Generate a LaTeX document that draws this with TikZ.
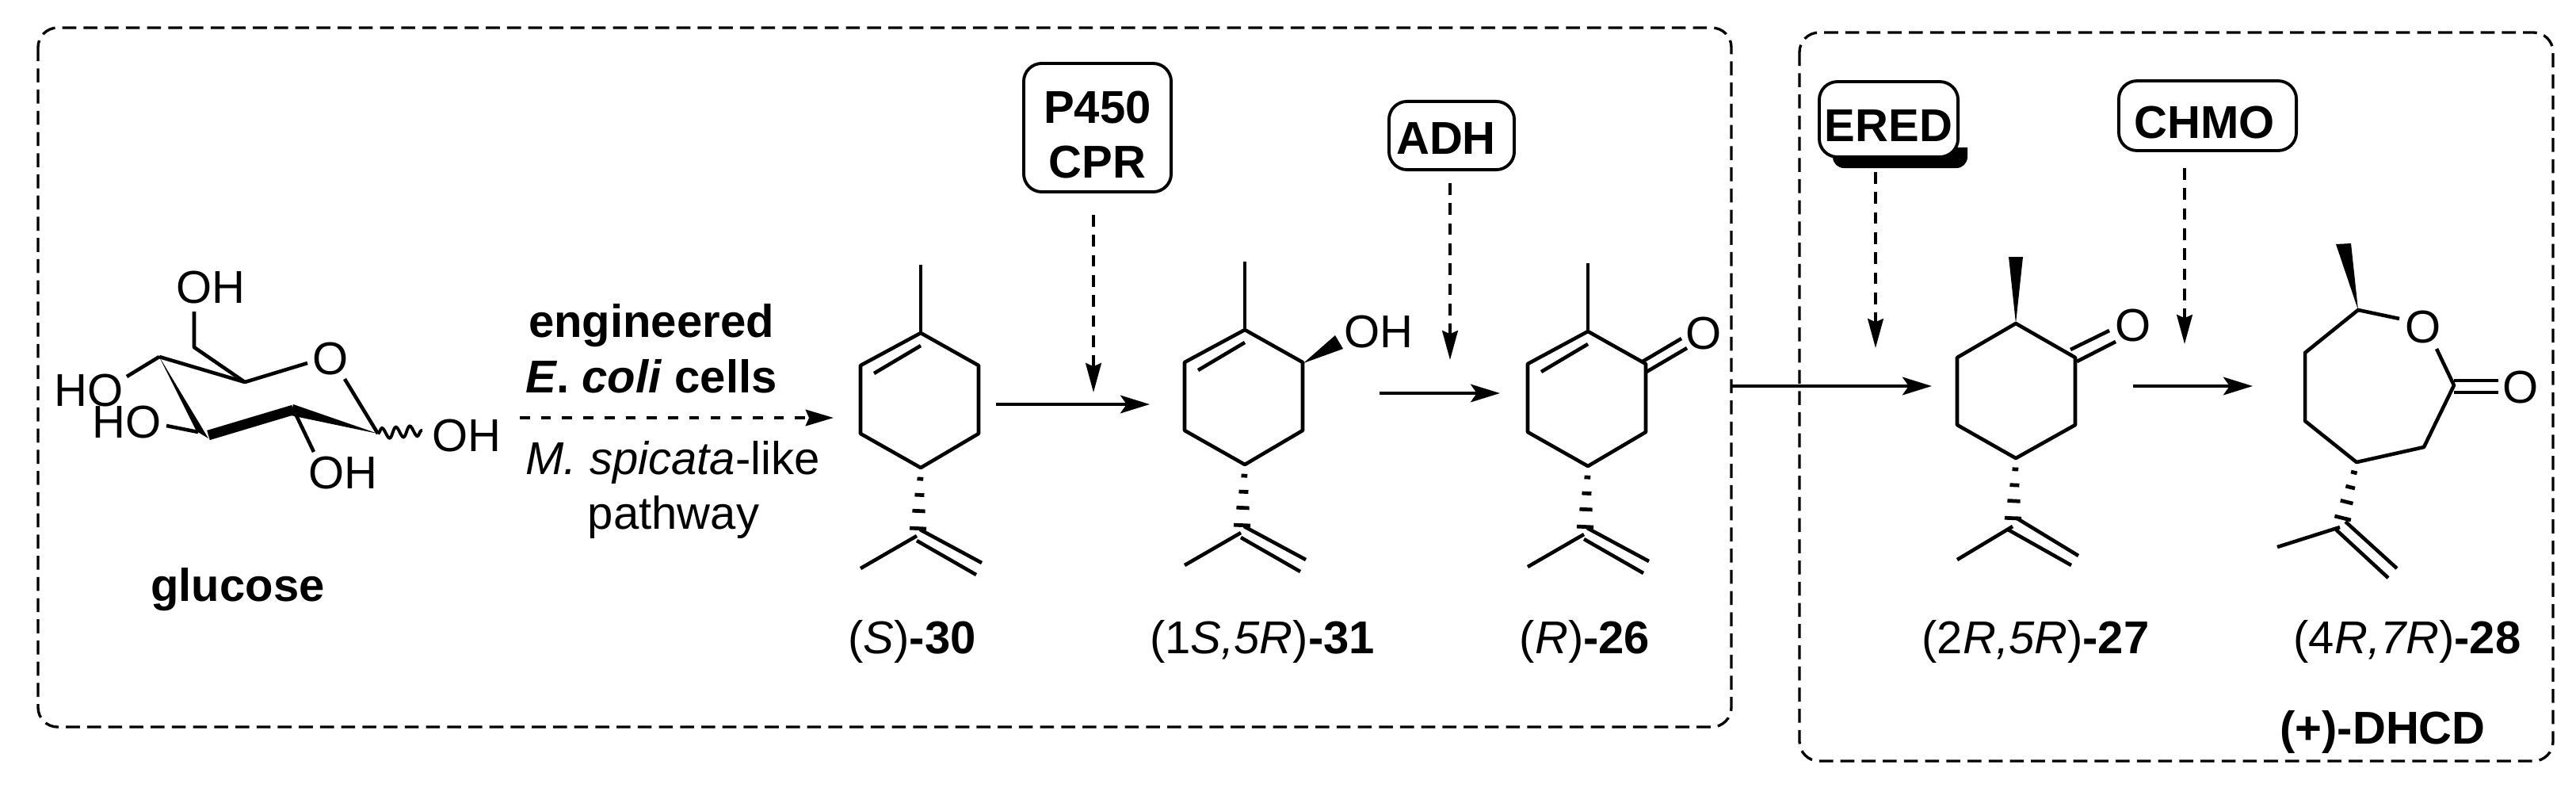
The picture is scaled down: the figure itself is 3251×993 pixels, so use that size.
\documentclass[tikz,border=0pt]{standalone}
\usepackage{fontspec}
\setmainfont{Liberation Sans}
\usetikzlibrary{arrows.meta,calc,decorations.pathmorphing}
\newcommand{\chemfont}{\fontsize{16.5pt}{19.6pt}\selectfont}
\tikzset{
  x=0.01cm,y=-0.01cm,
  bond/.style={line width=1.3pt,line cap=butt,line join=round},
  hashmark/.style={line width=1.35pt},
  atom/.style={inner sep=0pt,font=\chemfont,anchor=center},
  txt/.style={inner sep=0pt,font=\chemfont,anchor=base},
  enzyme/.style={draw,line width=1.1pt,rounded corners=6.5pt,inner sep=0pt,font=\chemfont\bfseries,anchor=center,fill=white},
  region/.style={line width=0.95pt,dash pattern=on 5pt off 2.6pt,rounded corners=7pt},
  react/.style={line width=1.35pt,-{Stealth[length=10.5pt,width=6.4pt,inset=2.2pt]}},
  cat/.style={line width=1.1pt,dash pattern=on 4.2pt off 3pt,-{Stealth[length=10.5pt,width=5.6pt,inset=1.2pt]}},
  feed/.style={line width=1.2pt,dash pattern=on 3.6pt off 4pt,-{Stealth[length=10pt,width=5.8pt,inset=1.2pt]}},
}
\newcommand{\hashbond}[2]{%
  \foreach \t/\w in {.16/1.1,.39/1.7,.62/2.3,.87/3.0}{%
    \draw[hashmark] ($#1!\t!#2!\w pt!90:#2$) -- ($#1!\t!#2!\w pt!-90:#2$);}}
\newcommand{\sidechain}{%
  \hashbond{(1162,590)}{(1158,678)}
  \draw[bond] (1086,717) -- (1157,676);
  \draw[bond] (1157,682) -- (1232,725);
  \draw[bond] (1161,668) -- (1239,710);}
\newcommand{\menthenering}{%
  \draw[bond] (1162,420) -- (1235,461) -- (1235,547) -- (1162,590) -- (1086,547) -- (1086,461) -- cycle;
  \draw[bond] (1162,420) -- (1162,334);
  \draw[bond] (1103,471) -- (1162,436);
  \sidechain}
\begin{document}
\begin{tikzpicture}
\useasboundingbox (0,0) rectangle (3251,993);
% regions
\draw[region] (48,35) rectangle (2185,917);
\draw[region] (2271,41) rectangle (3222,960);

% glucose
\node[atom] (gO) at (417,453) {O};
\node[atom] (gOH6) at (266,363) {OH};
\node[atom] (gHO4) at (112,493) {HO};
\node[atom] (gHO3) at (160,533) {HO};
\node[atom] (gOH2) at (433,597) {OH};
\node[atom] (gOH1) at (589,550) {OH};
\coordinate (c1) at (477,547);
\coordinate (c2) at (370,517);
\coordinate (c3) at (263,549);
\coordinate (c4) at (201,450);
\coordinate (c5) at (309,482);
\coordinate (c6) at (245,438);
\draw[bond] (c4) -- (c5) -- (388,458);
\draw[bond] (435,478) -- (c1);
\draw[bond] (c5) -- (c6) -- (245,393);
\draw[bond] (c4) -- (160,475);
\draw[bond] (250,545) -- (210,537);
\draw[bond] (372,520) -- (396,570);
\fill (c4) -- (263,553) -- (248,544) -- cycle;
\draw[line width=3.6pt,line join=round] (c3) -- (c2);
\fill (370,510) -- (c1) -- (367,524) -- cycle;
\draw[line width=1.1pt,decorate,decoration={snake,amplitude=1.9pt,segment length=5pt}] (c1) -- (533,543);

% glucose labels
\node[txt] (glucose) at (300,758) {\textbf{glucose}};
\node[txt] (cond1) at (822,425) {\textbf{engineered}};
\node[txt] (cond2) at (822,495) {\textbf{\textit{E}. \textit{coli} cells}};
\node[txt] (cond3) at (849,598) {\textit{M. spicata}-like};
\node[txt] (cond4) at (850,667) {pathway};
\coordinate (feedA) at (656,527);
\coordinate (feedB) at (1052,527);
\draw[feed] (feedA) -- (feedB);

% 30
\menthenering
\node[txt] (l30) at (1151,824) {(\textit{S})\textbf{-30}};

% 31
\begin{scope}[shift={(409,-4)}]
\menthenering
\end{scope}
\fill (1645,458) -- (1685,423) -- (1695,440) -- cycle;
\node[atom] (oh31) at (1740,419) {OH};
\node[txt] (l31) at (1593,824) {(1\textit{S,5R})\textbf{-31}};

% 26
\begin{scope}[shift={(842,-2)}]
\menthenering
\end{scope}
\draw[bond] (2073,456) -- (2122,427);
\draw[bond] (2078,469) -- (2129,439);
\node[atom] (o26) at (2150,421) {O};
\node[txt] (l26) at (2000,824) {(\textit{R})\textbf{-26}};

% 27
\draw[bond] (2544,408) -- (2619,451) -- (2619,536) -- (2544,578) -- (2470,536) -- (2470,451) -- cycle;
\fill (2544,408) -- (2535,324) -- (2553,324) -- cycle;
\draw[bond] (2621,456) -- (2670,431);
\draw[bond] (2613,441) -- (2662,417);
\node[atom] (o27) at (2692,411) {O};
\hashbond{(2544,578)}{(2540,665)}
\draw[bond] (2470,706) -- (2540,664);
\draw[bond] (2534,668) -- (2614,713);
\draw[bond] (2544,653) -- (2623,701);
\node[txt] (l27) at (2569,824) {(2\textit{R,5R})\textbf{-27}};

% 28
\node[atom] (o28a) at (3058,413) {O};
\node[atom] (o28b) at (3181,489) {O};
\draw[bond] (3028,402) -- (2976,391) -- (2909,445) -- (2909,531) -- (2974,583) -- (3059,564) -- (3097,486) -- (3075,440);
\fill (2976,391) -- (2948,308) -- (2967,307) -- cycle;
\draw[bond] (3097,480) -- (3153,480);
\draw[bond] (3097,495) -- (3153,495);
\hashbond{(2974,583)}{(2954,664)}
\draw[bond] (2874,690) -- (2953,665);
\draw[bond] (2948,668) -- (3014,729);
\draw[bond] (2960,658) -- (3025,717);
\node[txt] (l28) at (3038,824) {(4\textit{R,7R})\textbf{-28}};
\node[txt] (dhcd) at (3007,938) {\textbf{(+)-DHCD}};

% reaction arrows
\coordinate (r1a) at (1257,510); \coordinate (r1b) at (1451,510);
\coordinate (r2a) at (1741,496); \coordinate (r2b) at (1893,496);
\coordinate (r3a) at (2184,487); \coordinate (r3b) at (2438,487);
\coordinate (r4a) at (2692,487); \coordinate (r4b) at (2843,487);
\draw[react] (r1a) -- (r1b);
\draw[react] (r2a) -- (r2b);
\draw[react] (r3a) -- (r3b);
\draw[react] (r4a) -- (r4b);

% enzymes
\node[enzyme,minimum width=186*0.2845pt,minimum height=162*0.2845pt] (p450) at (1385,161)
  {\raisebox{-18pt}[0pt][0pt]{\begin{tabular}[b]{@{}c@{}}P450\\CPR\end{tabular}}};
\node[enzyme,minimum width=158*0.2845pt,text height=18.8pt,text depth=5.7pt] (adh) at (1832,171) {\hspace*{-4pt}ADH};
\fill (2313,186) -- (2483,186) [rounded corners=4pt] -- (2483,212) -- (2313,212) [sharp corners] -- cycle;
\node[enzyme,minimum width=175*0.2845pt,text height=21.6pt,text depth=5.4pt] (ered) at (2383.5,150.5) {ERED};
\node[enzyme,minimum width=224*0.2845pt,text height=20.5pt,text depth=4.5pt] (chmo) at (2786,146) {\hspace*{-2pt}CHMO};

% enzyme arrows
\coordinate (e1a) at (1380,271); \coordinate (e1b) at (1380,495);
\coordinate (e2a) at (1830,231); \coordinate (e2b) at (1830,454);
\coordinate (e3a) at (2367,217); \coordinate (e3b) at (2367,439);
\coordinate (e4a) at (2757,212); \coordinate (e4b) at (2757,434);
\draw[cat] (e1a) -- (e1b);
\draw[cat] (e2a) -- (e2b);
\draw[cat] (e3a) -- (e3b);
\draw[cat] (e4a) -- (e4b);
\end{tikzpicture}
\end{document}
